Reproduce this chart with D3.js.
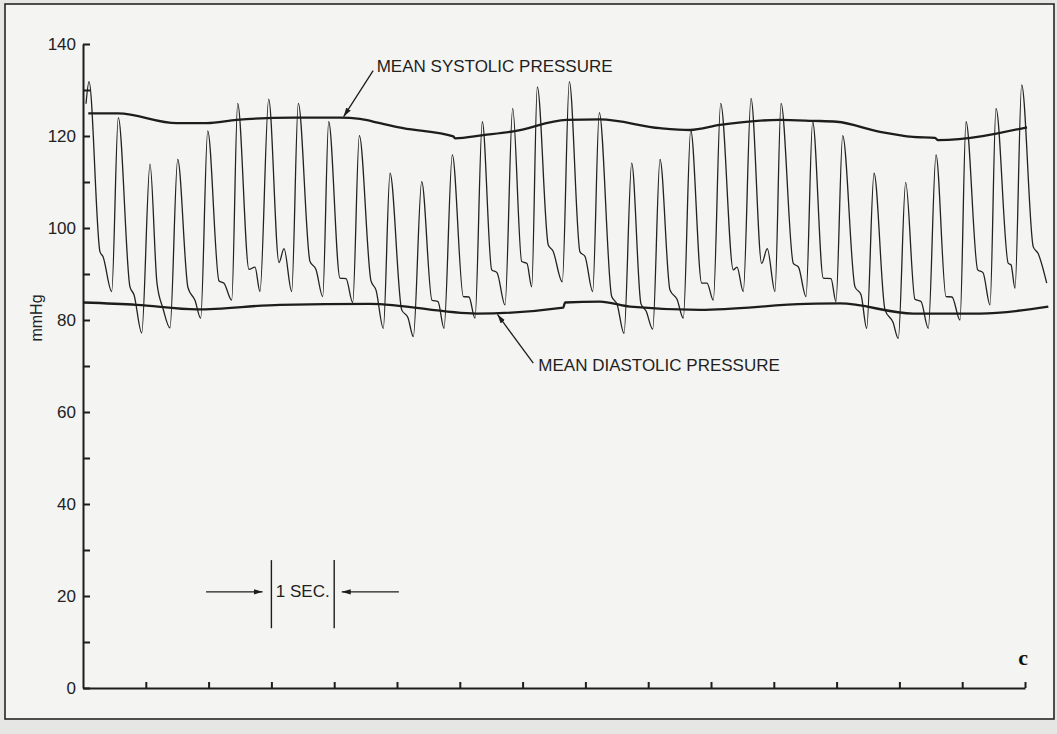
<!DOCTYPE html>
<html>
<head>
<meta charset="utf-8">
<script src="https://cdn.jsdelivr.net/npm/d3@7"></script>
<style>
  html, body { margin: 0; padding: 0; background: #e6e6e4; }
  svg { display: block; font-family: "Liberation Sans", Arial, sans-serif; }
</style>
</head>
<body>
<svg id="chart" width="1057" height="734"></svg>
<script>
// ---- Arterial pressure recording: time (s) vs pressure (mmHg) ----

// Axis ticks
const pressureTicks = [0, 10, 20, 30, 40, 50, 60, 70, 80, 90, 100, 110, 120, 130, 140];
const pressureLabels = [0, 20, 40, 60, 80, 100, 120, 140];
const secondTicks = [0, 1, 2, 3, 4, 5, 6, 7, 8, 9, 10, 11, 12, 13, 14, 15];

// Pressure trace, read beat by beat: systolic peak, end of the fast fall,
// dicrotic wave, and the end-diastolic minimum that follows it.
const traceStart = [0.048, 127.0];
const peakT   = [0.096, 0.562, 1.067, 1.508, 1.986, 2.463, 2.957, 3.428, 3.912, 4.400, 4.889, 5.393, 5.881, 6.358, 6.842, 7.234,
                 7.744, 8.221, 8.737, 9.188, 9.677, 10.154, 10.637, 11.115, 11.619, 12.097, 12.596, 13.100, 13.583, 14.061, 14.538, 14.947];
const peakP   = [131.8, 124.0, 113.9, 114.9, 121.1, 127.1, 128.0, 127.1, 123.1, 120.1, 111.9, 110.1, 115.9, 123.1, 126.0, 130.7,
                 131.8, 125.1, 114.1, 114.9, 121.3, 127.1, 128.2, 127.1, 123.1, 120.1, 111.9, 109.9, 115.9, 123.1, 126.0, 131.1];
const fallT   = [0.271, 0.748, 1.178, 1.672, 2.166, 2.643, 3.121, 3.615, 4.092, 4.586, 5.075, 5.557, 6.056, 6.508, 6.986, 7.409,
                 7.914, 8.419, 8.885, 9.347, 9.852, 10.355, 10.807, 11.311, 11.788, 12.293, 12.771, 13.248, 13.742, 14.247, 14.734, 15.132];
const fallP   = [94.8, 87.2, 88.0, 87.0, 88.5, 91.0, 92.5, 92.7, 89.1, 88.5, 82.2, 84.3, 85.1, 90.9, 92.7, 96.3,
                 94.8, 85.1, 83.5, 86.5, 88.0, 90.9, 92.3, 92.3, 89.1, 87.2, 82.2, 84.5, 85.1, 90.9, 92.3, 95.9];
const waveT   = [0.318, 0.812, 1.274, 1.783, 2.245, 2.739, 3.201, 3.710, 4.188, 4.666, 5.175, 5.653, 6.146, 6.592, 7.070, 7.484,
                 7.994, 8.503, 8.965, 9.459, 9.936, 10.414, 10.896, 11.393, 11.911, 12.389, 12.898, 13.344, 13.838, 14.331, 14.777, 15.207];
const waveP   = [93.8, 85.5, 82.5, 84.3, 88.0, 91.5, 95.5, 91.0, 89.0, 86.5, 80.5, 84.0, 85.0, 90.3, 92.3, 95.0,
                 93.8, 83.5, 82.0, 84.5, 88.0, 91.5, 95.5, 91.5, 89.0, 85.5, 79.5, 84.0, 85.0, 90.3, 92.0, 94.5];
const minT    = [0.457, 0.935, 1.385, 1.874, 2.368, 2.818, 3.323, 3.817, 4.295, 4.782, 5.260, 5.748, 6.242, 6.720, 7.145, 7.632,
                 8.116, 8.615, 9.072, 9.559, 10.037, 10.514, 11.019, 11.513, 11.990, 12.479, 12.982, 13.460, 13.965, 14.443, 14.841, 15.346];
const minP    = [86.2, 77.2, 78.3, 80.4, 84.3, 86.2, 86.2, 85.1, 83.8, 78.2, 76.4, 78.2, 80.4, 83.3, 87.2, 88.3,
                 86.2, 77.1, 78.0, 80.4, 84.3, 86.2, 86.2, 85.1, 84.0, 78.2, 76.0, 78.2, 80.0, 83.3, 86.9, 88.0];

// Mean systolic pressure line
const systolicT = [0.084, 0.562, 1.492, 1.970, 2.447, 3.349, 4.092, 4.411, 4.729, 5.096, 5.897, 5.924, 6.374, 6.852, 7.702,
                   8.232, 9.188, 9.666, 10.143, 11.099, 11.624, 12.002, 12.691, 13.217, 13.567, 13.615, 15.032];
const systolicP = [124.9, 124.9, 122.8, 122.8, 123.5, 124.0, 124.0, 123.7, 122.8, 121.7, 119.9, 119.5, 120.2, 121.0, 123.5,
                   123.6, 121.7, 121.3, 122.4, 123.5, 123.3, 123.1, 120.9, 119.8, 119.6, 119.1, 121.9];

// Mean diastolic pressure line
const diastolicT = [0.005, 0.855, 1.811, 3.137, 4.570, 6.269, 7.648, 7.675, 8.232, 8.710, 9.825, 11.524, 12.054, 13.221, 14.283, 15.371];
const diastolicP = [83.8, 83.3, 82.3, 83.3, 83.5, 81.4, 82.7, 83.8, 84.0, 82.9, 82.2, 83.5, 83.6, 81.4, 81.4, 82.9];

// ---- drawing ----
const svg = d3.select("#chart");
const W = 1057, H = 734;
const ink = "#1d1d1d";

// Paper and frame
svg.append("rect").attr("x", 0).attr("y", 0).attr("width", W).attr("height", H).attr("fill", "#e6e6e4");
svg.append("rect").attr("x", 5).attr("y", 4).attr("width", 1049).attr("height", 715)
  .attr("fill", "#f4f4f2").attr("stroke", "#262626").attr("stroke-width", 1.6);

const x = d3.scaleLinear().domain([0, 15]).range([83, 1025]);
const y = d3.scaleLinear().domain([0, 140]).range([688, 44]);

const defs = svg.append("defs");
defs.append("marker").attr("id", "head")
  .attr("viewBox", "0 0 10 6").attr("refX", 10).attr("refY", 3)
  .attr("markerWidth", 9).attr("markerHeight", 5.5).attr("markerUnits", "userSpaceOnUse")
  .attr("orient", "auto")
  .append("path").attr("d", "M0,0 L10,3 L0,6 Z").attr("fill", ink);

// Axes
const yAxis = d3.axisLeft(y)
  .tickValues(pressureTicks)
  .tickFormat(d => pressureLabels.includes(d) ? String(d) : "")
  .tickSizeInner(-7).tickSizeOuter(0).tickPadding(7);
const gy = svg.append("g").attr("transform", `translate(${x(0)},0)`).call(yAxis);
gy.select(".domain").attr("stroke", ink).attr("stroke-width", 2);
gy.selectAll(".tick line").attr("stroke", ink).attr("stroke-width", 2);
gy.selectAll(".tick text").attr("fill", "#222").style("font-size", "17px")
  .style("font-family", "'Liberation Sans', Arial, sans-serif");

const xAxis = d3.axisBottom(x)
  .tickValues(secondTicks.filter(d => d > 0))
  .tickFormat("")
  .tickSizeInner(-6).tickSizeOuter(0);
const gx = svg.append("g").attr("transform", `translate(0,${y(0)})`).call(xAxis);
gx.select(".domain").attr("stroke", ink).attr("stroke-width", 2);
gx.selectAll(".tick line").attr("stroke", ink).attr("stroke-width", 2);

// Y-axis title
svg.append("text")
  .attr("transform", `translate(42,${y(80) - 2}) rotate(-90)`)
  .attr("text-anchor", "middle")
  .attr("fill", "#222").style("font-size", "16px")
  .text("mmHg");

// Assemble the pressure trace from its beat landmarks
const trace = [traceStart];
peakT.forEach((t, i) => {
  trace.push([t, peakP[i]]);
  trace.push([fallT[i], fallP[i]]);
  trace.push([waveT[i], waveP[i]]);
  trace.push([minT[i], minP[i]]);
});

const line = d3.line().x(d => x(d[0])).y(d => y(d[1])).curve(d3.curveMonotoneX);

svg.append("path").datum(trace)
  .attr("d", line).attr("fill", "none")
  .attr("stroke", "#222").attr("stroke-width", 1.3).attr("stroke-linejoin", "round");

const systolic = systolicT.map((t, i) => [t, systolicP[i]]);
const diastolic = diastolicT.map((t, i) => [t, diastolicP[i]]);
[systolic, diastolic].forEach(series => {
  svg.append("path").datum(series)
    .attr("d", line).attr("fill", "none")
    .attr("stroke", ink).attr("stroke-width", 2.3).attr("stroke-linejoin", "round");
});

// Annotations
function arrow(from, to) {
  svg.append("line")
    .attr("x1", x(from[0])).attr("y1", y(from[1]))
    .attr("x2", x(to[0])).attr("y2", y(to[1]))
    .attr("stroke", ink).attr("stroke-width", 1.3)
    .attr("marker-end", "url(#head)");
}
function label(at, text, size) {
  svg.append("text").attr("x", x(at[0])).attr("y", y(at[1]))
    .attr("fill", "#1f1f1f").style("font-size", size + "px").text(text);
}

label([4.677, 133.9], "MEAN SYSTOLIC PRESSURE", 17);
arrow([4.62, 134.2], [4.15, 124.2]);

label([7.250, 69.0], "MEAN DIASTOLIC PRESSURE", 17);
arrow([7.17, 70.6], [6.60, 81.2]);

// One-second scale bar
[3, 4].forEach(t => {
  svg.append("line")
    .attr("x1", x(t)).attr("x2", x(t))
    .attr("y1", y(27.8)).attr("y2", y(13.0))
    .attr("stroke", ink).attr("stroke-width", 1.4);
});
label([3.07, 19.7], "1 SEC.", 17);
arrow([1.96, 20.9], [2.86, 20.9]);
arrow([5.03, 20.9], [4.12, 20.9]);

// Panel letter
svg.append("text")
  .attr("x", x(15) + 3).attr("y", y(5))
  .attr("text-anchor", "end")
  .attr("fill", "#111")
  .style("font-family", "'Liberation Serif', 'Times New Roman', serif")
  .style("font-weight", "bold").style("font-size", "22px")
  .text("c");
</script>
</body>
</html>
